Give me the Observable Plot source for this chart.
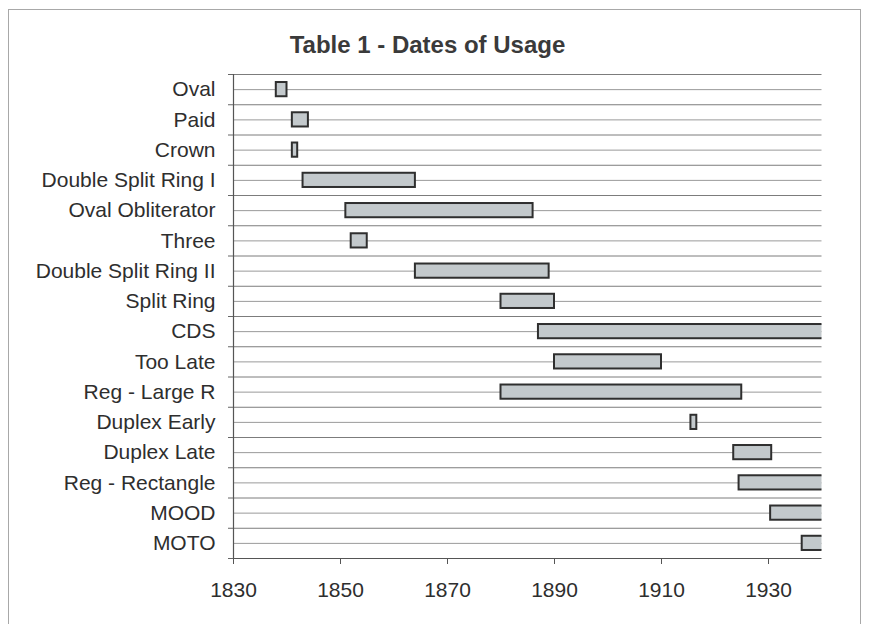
<!DOCTYPE html>
<html>
<head>
<meta charset="utf-8">
<script src="https://cdn.jsdelivr.net/npm/d3@7"></script>
<script src="https://cdn.jsdelivr.net/npm/@observablehq/plot@0.6"></script>
<style>
  html, body { margin: 0; padding: 0; background: #fff; }
  #wrap { position: relative; width: 869px; height: 624px; overflow: hidden; font-family: "Liberation Sans", Arial, sans-serif; }
  #frame { position: absolute; left: 8px; top: 9px; width: 853px; height: 640px; border: 1px solid #a8a8a8; box-sizing: border-box; }
  #title { position: relative; height: 60px; line-height: 90px; text-align: center; padding-right: 14px; font-size: 24px; font-weight: bold; color: #3a3a3a; }
  #chart { position: relative; }
</style>
</head>
<body>
<div id="wrap">
  <div id="frame"></div>
  <div id="title">Table 1 - Dates of Usage</div>
  <div id="chart"></div>
</div>
<script>
const categories = ["Oval", "Paid", "Crown", "Double Split Ring I", "Oval Obliterator", "Three",
  "Double Split Ring II", "Split Ring", "CDS", "Too Late", "Reg - Large R", "Duplex Early",
  "Duplex Late", "Reg - Rectangle", "MOOD", "MOTO"];
const startYears = [1838, 1841, 1841, 1843, 1851, 1852, 1864, 1880, 1887, 1890, 1880, 1915.5, 1923.5, 1924.5, 1930.4, 1936.3];
const endYears   = [1840, 1844, 1842, 1864, 1886, 1855, 1889, 1890, 1945, 1910, 1925, 1916.6, 1930.6, 1945, 1945, 1945];
const xTicks = [1830, 1850, 1870, 1890, 1910, 1930];

const rows = categories.map((name, i) => ({name, i, start: startYears[i], end: endYears[i]}));
const idx = categories.map((_, i) => i);
const bounds = [-0.5, ...idx.map(i => i + 0.5)];

const chart = Plot.plot({
  width: 869,
  height: 564,
  marginLeft: 233,
  marginRight: 47.5,
  marginTop: 14,
  marginBottom: 66,
  style: {fontFamily: "'Liberation Sans', Arial, sans-serif", background: "transparent", color: "#2e2e2e"},
  x: {domain: [1830, 1940]},
  y: {domain: [-0.5, categories.length - 0.5], reverse: true},
  marks: [
    Plot.ruleY(idx, {y: d => d, x1: 1830, x2: 1940, stroke: "#9a9a9a", strokeWidth: 1}),
    Plot.ruleY(bounds.slice(0, -1), {y: d => d, x1: 1830, x2: 1940, stroke: "#7c7c7c", strokeWidth: 1}),
    Plot.rect(rows, {x1: "start", x2: "end", y1: d => d.i - 0.235, y2: d => d.i + 0.235,
      fill: "#c3c9cc", stroke: "#2f2f2f", strokeWidth: 2, clip: true}),
    Plot.ruleX([1830], {y1: -0.5, y2: categories.length - 0.5, stroke: "#555", strokeWidth: 1.2}),
    Plot.ruleY([categories.length - 0.5], {x1: 1830, x2: 1940, stroke: "#555", strokeWidth: 1.2}),
    Plot.axisY({ticks: idx, tickFormat: i => categories[i], tickSize: 0, tickPadding: 18, fontSize: 21, label: null}),
    Plot.axisY({ticks: bounds, tickFormat: () => "", tickSize: 5, stroke: "#666", label: null}),
    Plot.axisX({ticks: xTicks, tickFormat: d => String(d), tickSize: 6, tickPadding: 18, fontSize: 21, stroke: "#555", label: null})
  ]
});
document.getElementById("chart").appendChild(chart);
</script>
</body>
</html>
